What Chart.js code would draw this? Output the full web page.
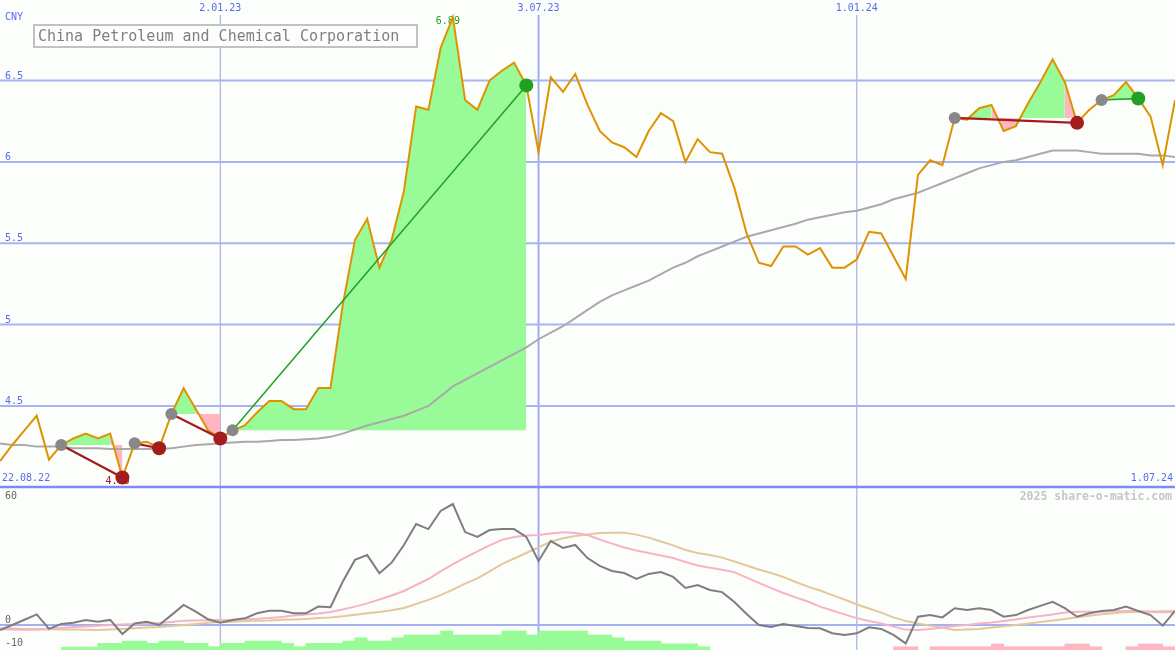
<!DOCTYPE html>
<html><head><meta charset="utf-8">
<script src="https://cdn.jsdelivr.net/npm/chart.js@4.4.1/dist/chart.umd.min.js"></script>
<style>html,body{margin:0;padding:0;background:#fcfefc;overflow:hidden}canvas{display:block}</style>
</head><body>
<canvas id="c" width="1175" height="650" style="width:1175px;height:650px"></canvas>
<script>
// ---- data (weekly closes, 29.08.22 .. 1.07.24) ----
const prices = [4.16,4.26,4.35,4.44,4.17,4.26,4.30,4.33,4.30,4.33,
 4.06,4.27,4.28,4.24,4.45,4.61,4.48,4.35,4.30,4.35,
 4.38,4.46,4.53,4.53,4.48,4.48,4.61,4.61,5.12,5.52,
 5.65,5.35,5.52,5.82,6.34,6.32,6.70,6.89,6.38,6.32,
 6.50,6.56,6.61,6.47,6.06,6.52,6.43,6.54,6.35,6.19,
 6.12,6.09,6.03,6.19,6.30,6.25,6.00,6.14,6.06,6.05,
 5.84,5.56,5.38,5.36,5.48,5.48,5.43,5.47,5.35,5.35,
 5.40,5.57,5.56,5.42,5.28,5.92,6.01,5.98,6.27,6.26,
 6.33,6.35,6.19,6.22,6.36,6.49,6.63,6.49,6.24,6.32,
 6.38,6.41,6.49,6.39,6.28,5.98,6.38];
const movingAvg = [4.27,4.26,4.26,4.25,4.25,4.25,4.24,4.24,4.24,4.235,
 4.235,4.235,4.235,4.235,4.24,4.25,4.26,4.265,4.27,4.275,
 4.28,4.28,4.285,4.29,4.29,4.295,4.30,4.31,4.33,4.355,
 4.38,4.40,4.42,4.44,4.47,4.50,4.56,4.62,4.66,4.70,
 4.74,4.78,4.82,4.86,4.91,4.95,4.99,5.04,5.09,5.14,
 5.18,5.21,5.24,5.27,5.31,5.35,5.38,5.42,5.45,5.48,
 5.51,5.54,5.56,5.58,5.60,5.62,5.645,5.66,5.675,5.69,
 5.70,5.72,5.74,5.77,5.79,5.81,5.84,5.87,5.90,5.93,
 5.96,5.98,6.00,6.01,6.03,6.05,6.07,6.07,6.07,6.06,
 6.05,6.05,6.05,6.05,6.04,6.04,6.03];
const oscillator = [-2.2,0,2.3,4.6,-1.7,0.4,1.0,2.2,1.4,2.2,
 -3.9,0.7,1.4,0,4.3,8.7,5.8,2.5,1.0,2.2,
 2.9,5.1,6.2,6.2,5.1,5.1,8.0,7.7,18.8,28.3,
 30.4,22.5,27.1,34.8,43.9,41.7,49.6,52.6,40.4,38.3,
 41.3,41.7,41.7,38.3,27.8,36.5,33.5,34.8,29.1,25.7,
 23.5,22.6,20.0,22.2,23.0,20.9,16.1,17.4,15.2,14.3,
 10.0,4.8,0,-0.9,0.4,-0.4,-1.3,-1.4,-3.6,-4.3,
 -3.6,-1.0,-1.7,-4.3,-8.0,3.6,4.3,3.3,7.3,6.5,
 7.3,6.5,3.6,4.3,6.5,8.3,10.1,7.3,3.6,5.1,
 6.1,6.5,8.0,6.1,4.3,-0.3,6.1];
const signalFast = [-1.9,-2.0,-2.1,-2.1,-1.7,-1.3,-0.9,-0.6,-0.3,0,
 0.2,0.4,0.7,0.9,1.3,1.9,2.0,2.1,2.2,2.3,
 2.6,2.7,3.0,3.5,4.1,4.6,5.0,5.7,6.7,8.0,
 9.4,11.1,12.8,14.8,17.4,20.0,23.3,26.5,29.3,32.0,
 34.6,37.0,38.3,38.9,39.1,39.8,40.3,40.0,39.1,37.2,
 35.4,33.7,32.4,31.3,30.2,29.1,27.4,25.9,24.9,24.0,
 23.0,20.6,18.3,16.0,13.9,12.0,10.2,8.0,6.3,4.6,
 3.0,1.7,0.7,-0.7,-2.0,-2.2,-1.7,-1.1,-0.4,0,
 0.7,1.1,1.7,2.4,3.3,3.9,4.6,5.4,5.8,5.8,
 5.8,6.0,6.1,6.1,5.7,5.5,5.5];
const signalSlow = [-1.4,-1.5,-1.7,-1.7,-1.9,-2.0,-2.0,-2.1,-2.2,-2.0,
 -1.7,-1.4,-1.1,-0.9,-0.4,0,0.4,1.0,1.3,1.4,
 1.7,1.9,2.0,2.3,2.4,2.6,3.0,3.3,3.8,4.5,
 5.1,5.7,6.4,7.4,9.1,10.9,13.0,15.4,18.0,20.3,
 23.3,26.5,28.9,31.3,33.7,36.3,37.7,38.7,39.3,40.0,
 40.1,40.1,39.3,38.0,36.3,34.6,32.6,31.3,30.4,29.3,
 27.6,25.9,24.1,22.6,20.9,18.7,16.7,15.0,13.0,11.1,
 8.9,7.2,5.4,3.3,1.7,0.7,-0.3,-1.2,-2.2,-2.0,
 -1.7,-1.1,-0.6,0,0.7,1.3,2.0,2.6,3.4,4.0,
 4.7,5.1,5.5,5.8,5.9,6.0,6.1];
const histogram = [0,0,0,0,0,1.2,1.2,1.2,2.9,2.9,
 3.9,3.9,2.9,3.9,3.9,2.9,2.9,1.4,2.9,2.9,
 3.9,3.9,3.9,2.9,1.4,2.9,2.9,2.9,3.9,5.3,
 3.9,3.9,5.3,6.5,6.5,6.5,8.3,6.5,6.5,6.5,
 6.5,8.3,8.3,6.5,8.3,8.3,8.3,8.3,6.5,6.5,
 5.3,3.9,3.9,3.9,2.7,2.7,2.7,1.4,0,0,
 0,0,0,0,0,0,0,0,0,0,
 0,0,0,-1.4,-1.4,0,-1.4,-1.4,-1.4,-1.4,
 -1.4,-2.6,-1.4,-1.4,-1.4,-1.4,-1.4,-2.6,-2.6,-1.4,
 0,0,-1.4,-2.6,-2.6,-1.4,0];
const tradeEntry = [5, 11, 14, 19, 78, 90];
const tradeExit  = [10, 13, 18, 43, 88, 93];
const xTickIndex = [18, 44, 70];
const xTickLabels = ['2.01.23', '3.07.23', '1.01.24'];
const xStartLabel = '22.08.22';
const xEndLabel = '1.07.24';
const priceTicks = [4.5, 5, 5.5, 6, 6.5];
const priceTickLabels = ['4.5', '5', '5.5', '6', '6.5'];
const oscTicks = [60, 0, -10];
const oscTickLabels = ['60', '0', '-10'];
const title = 'China Petroleum and Chemical Corporation';
const currency = 'CNY';
const watermark = '2025 share-o-matic.com';

// ---- styles ----
const BG = '#fcfefc';
const GREEN_FILL = '#98fb98', PINK_FILL = '#ffb6c1';
const RED = '#a31d1d', GREEN = '#22a022', GREY_DOT = '#888888';
const MONO = '"DejaVu Sans Mono", "Liberation Mono", monospace';
const NONE = 'rgba(0,0,0,0)';

const pts = arr => arr.map((v, i) => ({x: i, y: v}));
const datasets = [];

// trade fills (between price and entry level)
tradeEntry.forEach((e, t) => {
  const x = tradeExit[t];
  const lvl = prices[e];
  const rng = [];
  for (let k = e; k <= x; k++) rng.push(k);
  const lvlIndex = datasets.length;
  datasets.push({data: rng.map(k => ({x: k, y: lvl})), borderColor: NONE, borderWidth: 0,
    pointRadius: 0, fill: false, order: 20});
  datasets.push({data: rng.map(k => ({x: k, y: prices[k]})), borderColor: NONE, borderWidth: 0,
    pointRadius: 0, backgroundColor: GREEN_FILL, fill: {target: lvlIndex}, order: 19,
    segment: {backgroundColor: c => (c.p1.parsed.y >= lvl ? GREEN_FILL : PINK_FILL)}});
});

datasets.push({data: pts(movingAvg), borderColor: '#a9a9a9', borderWidth: 2, pointRadius: 0, fill: false, order: 15});
datasets.push({type: 'bar', data: histogram.map((v, k) => ({x: k + 0.5, y: v === 0 ? null : Math.abs(v)})),
  backgroundColor: histogram.map(v => v >= 0 ? GREEN_FILL : PINK_FILL), borderWidth: 0,
  barPercentage: 1, categoryPercentage: 1, yAxisID: 'yb', order: 14});
datasets.push({data: pts(signalSlow), borderColor: '#e3c99a', borderWidth: 2, pointRadius: 0, fill: false, yAxisID: 'y2', order: 13});
datasets.push({data: pts(signalFast), borderColor: '#f8b2c6', borderWidth: 2, pointRadius: 0, fill: false, yAxisID: 'y2', order: 12});
datasets.push({data: pts(oscillator), borderColor: '#7e7e7e', borderWidth: 2, pointRadius: 0, fill: false, yAxisID: 'y2', order: 11});
datasets.push({data: pts(prices), borderColor: '#df9200', borderWidth: 2, pointRadius: 0, fill: false, order: 10});

// trade connection lines
tradeEntry.forEach((e, t) => {
  const x = tradeExit[t];
  const win = prices[x] > prices[e];
  datasets.push({data: [{x: e, y: prices[e]}, {x: x, y: prices[x]}], borderColor: win ? GREEN : RED,
    borderWidth: win ? 1.5 : 2.2, pointRadius: 0, fill: false, order: 5});
});
// markers
datasets.push({data: tradeEntry.map(k => ({x: k, y: prices[k]})), showLine: false, pointRadius: 6,
  pointBackgroundColor: GREY_DOT, pointBorderWidth: 0, order: 3});
datasets.push({data: tradeExit.map(k => ({x: k, y: prices[k]})), showLine: false, pointRadius: 7,
  pointBackgroundColor: tradeExit.map((k, t) => prices[k] > prices[tradeEntry[t]] ? GREEN : RED),
  pointBorderWidth: 0, order: 2});

const framePlugin = {
  id: 'frame',
  beforeDraw(chart) {
    const c = chart.ctx;
    c.save(); c.fillStyle = BG; c.fillRect(0, 0, chart.width, chart.height); c.restore();
  },
  beforeDatasetsDraw(chart) {
    const c = chart.ctx, a = chart.chartArea, X = chart.scales.x, Y = chart.scales.y, Y2 = chart.scales.y2;
    c.save();
    // vertical date lines
    xTickIndex.forEach((k, j) => {
      const px = X.getPixelForValue(k);
      c.strokeStyle = j === 1 ? '#a0acf2' : '#a9b1e6';
      c.lineWidth = j === 1 ? 2 : 1.2;
      c.beginPath(); c.moveTo(px, 15); c.lineTo(px, a.bottom); c.stroke();
    });
    // price grid
    c.strokeStyle = '#a8b3f2'; c.lineWidth = 2;
    priceTicks.forEach(v => { const py = Y.getPixelForValue(v); c.beginPath(); c.moveTo(a.left, py); c.lineTo(a.right, py); c.stroke(); });
    // panel separator (bottom of price panel)
    const sep = Y2.getPixelForValue(oscTicks[0]);
    c.strokeStyle = '#7d8cf0'; c.lineWidth = 2.4;
    c.beginPath(); c.moveTo(a.left, sep); c.lineTo(a.right, sep); c.stroke();
    // oscillator zero line
    const z = Y2.getPixelForValue(0);
    c.strokeStyle = '#a4b0f2'; c.lineWidth = 2;
    c.beginPath(); c.moveTo(a.left, z); c.lineTo(a.right, z); c.stroke();

    // text
    c.font = '10px ' + MONO; c.fillStyle = '#5a6af0'; c.textBaseline = 'middle';
    c.textAlign = 'center';
    xTickIndex.forEach((k, j) => c.fillText(xTickLabels[j], X.getPixelForValue(k), 8));
    c.textAlign = 'left';
    c.fillText(currency, 5, 17);
    c.fillText(xStartLabel, 2, sep - 9);
    c.textAlign = 'right';
    c.fillText(xEndLabel, a.right - 2, sep - 9);
    c.textAlign = 'left'; c.textBaseline = 'alphabetic';
    priceTicks.forEach((v, j) => c.fillText(priceTickLabels[j], 5, Y.getPixelForValue(v) - 2));
    c.fillStyle = '#666666';
    oscTicks.forEach((v, j) => {
      const py = Y2.getPixelForValue(v);
      c.fillText(oscTickLabels[j], 5, j === 0 ? py + 12.5 : py - 2);
    });
    // watermark
    c.font = 'bold 11.5px ' + MONO; c.fillStyle = '#c6c6c6'; c.textAlign = 'right'; c.textBaseline = 'middle';
    c.fillText(watermark, a.right - 3, sep + 10);

    // title box
    c.fillStyle = BG; c.fillRect(34, 25, 383, 22);
    c.strokeStyle = '#c2c2c2'; c.lineWidth = 2; c.strokeRect(34, 25, 383, 22);
    c.font = '15px ' + MONO; c.fillStyle = '#7f7f7f'; c.textAlign = 'left'; c.textBaseline = 'middle';
    c.fillText(title, 38, 37);

    // max / min labels
    let iMax = 0, iMin = 0;
    prices.forEach((v, i) => { if (v > prices[iMax]) iMax = i; if (v < prices[iMin]) iMin = i; });
    c.font = '10px ' + MONO; c.textBaseline = 'alphabetic';
    c.fillStyle = GREEN; c.textAlign = 'center';
    c.fillText(prices[iMax].toFixed(2), X.getPixelForValue(iMax) - 5, Y.getPixelForValue(prices[iMax]) + 7);
    c.fillStyle = RED; c.textAlign = 'left';
    c.fillText(prices[iMin].toFixed(2), X.getPixelForValue(iMin) - 17, Y.getPixelForValue(prices[iMin]) + 6);
    c.restore();
  }
};

new Chart(document.getElementById('c'), {
  type: 'line',
  data: {datasets},
  options: {
    responsive: false, animation: false, events: [],
    layout: {padding: 0, autoPadding: false},
    elements: {line: {tension: 0}},
    plugins: {legend: {display: false}, tooltip: {enabled: false}, title: {display: false}},
    scales: {
      x: {type: 'linear', min: 0, max: 96, offset: false, display: false},
      y: {type: 'linear', min: 3.0, max: 6.995, display: false},
      y2: {type: 'linear', min: -10.87, max: 271.74, display: false},
      yb: {type: 'linear', min: 0, max: 282.6, display: false}
    }
  },
  plugins: [framePlugin]
});
</script>
</body></html>
